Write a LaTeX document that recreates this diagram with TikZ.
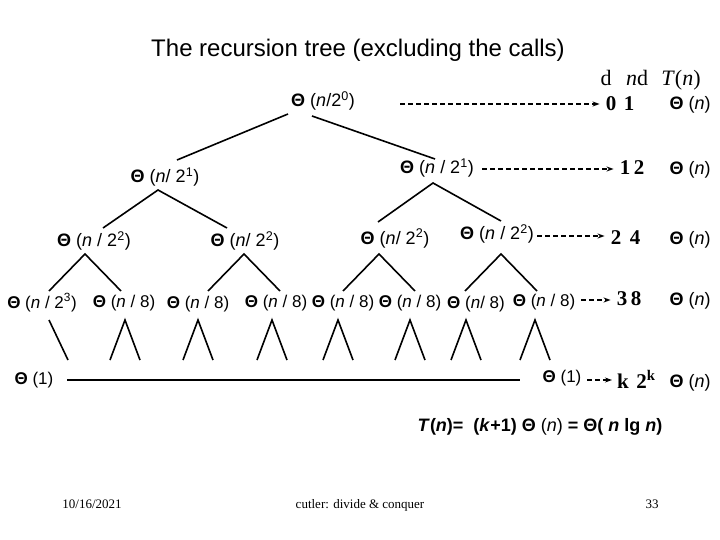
\documentclass[tikz,border=0pt]{standalone}
\usepackage{fontspec}
\setmainfont{Liberation Sans}
\newfontfamily\serifF{Liberation Serif}
\usetikzlibrary{arrows.meta}
\newcommand{\myth}{\textbf{Θ}}
\newcommand{\nn}{\textit{n}}
\begin{document}
\begin{tikzpicture}[x=1pt,y=-1pt,
  lbl/.style={inner sep=0pt, anchor=base, font=\fontsize{18}{20}\selectfont},
  lblS/.style={inner sep=0pt, anchor=base, font=\fontsize{17}{19}\selectfont},
  edge/.style={line width=1.6pt},
  dasharrow/.style={line width=1.1pt, dash pattern=on 5pt off 3pt, -{Stealth[length=7pt,width=5pt]}},
  num/.style={inner sep=0pt, anchor=base, font=\serifF\bfseries\fontsize{21}{23}\selectfont},
  thn/.style={inner sep=0pt, anchor=base, font=\fontsize{18}{20}\selectfont},
  hdr/.style={inner sep=0pt, anchor=base, font=\serifF\fontsize{22}{24}\selectfont},
  foot/.style={inner sep=0pt, anchor=base, font=\serifF\fontsize{13}{15}\selectfont}]
\fill[white] (0,0) rectangle (720,540);
\path[use as bounding box] (0,0) rectangle (720,540);

% title
\node[inner sep=0pt, anchor=base, font=\fontsize{24}{27}\selectfont] (title) at (358,57) {The recursion tree (excluding the calls)};

% header
\node[hdr] (hd) at (606,86) {d};
\node[hdr] (hnd) at (637,86) {\textit{n}d};
\node[hdr] (hT) at (681,86) {\textit{T}(\textit{n})};

% level 0
\node[lbl] (r0) at (323,107) {\myth\ (\nn/2\textsuperscript{0})};
\node[num] (n0a) at (611,111) {0};
\node[num] (n0b) at (629,111) {1};
\node[thn] (t0) at (690,110) {\myth\ (\nn)};
\coordinate (a0) at (400,104);
\draw[dasharrow, shorten >=6pt] (a0) -- (a0 -| n0a.west);

% level 1
\node[lbl] (L1a) at (165,183) {\myth\ (\nn/ 2\textsuperscript{1})};
\node[lbl] (L1b) at (437,174) {\myth\ (\nn\ / 2\textsuperscript{1})};
\node[num] (n1a) at (625,175) {1};
\node[num] (n1b) at (639,175) {2};
\node[thn] (t1) at (690,175) {\myth\ (\nn)};
\coordinate (a1) at (482,169);
\draw[dasharrow, shorten >=6pt] (a1) -- (a1 -| n1a.west);

% level 2
\node[lbl] (L2a) at (94,247) {\myth\ (\nn\ / 2\textsuperscript{2})};
\node[lbl] (L2b) at (245,247) {\myth\ (\nn/ 2\textsuperscript{2})};
\node[lbl] (L2c) at (395,244) {\myth\ (\nn/ 2\textsuperscript{2})};
\node[lbl] (L2d) at (497,240) {\myth\ (\nn\ / 2\textsuperscript{2})};
\node[num] (n2a) at (616,244) {2};
\node[num] (n2b) at (635,244) {4};
\node[thn] (t2) at (690,244) {\myth\ (\nn)};
\coordinate (a2) at (537,236);
\draw[dasharrow, shorten >=6pt] (a2) -- (a2 -| n2a.west);

% level 3
\node[lblS] (L3a) at (42,308) {\myth\ (\nn\ / 2\textsuperscript{3})};
\node[lblS] (L3b) at (124,307) {\myth\ (\nn\ / 8)};
\node[lblS] (L3c) at (198,308) {\myth\ (\nn\ / 8)};
\node[lblS] (L3d) at (276,307) {\myth\ (\nn\ / 8)};
\node[lblS] (L3e) at (343,307) {\myth\ (\nn\ / 8)};
\node[lblS] (L3f) at (410,307) {\myth\ (\nn\ / 8)};
\node[lblS] (L3g) at (476,308) {\myth\ (\nn/ 8)};
\node[lblS] (L3h) at (544,306) {\myth\ (\nn\ / 8)};
\node[num] (n3a) at (622,305) {3};
\node[num] (n3b) at (636,305) {8};
\node[thn] (t3) at (690,305) {\myth\ (\nn)};
\coordinate (a3) at (581,300);
\draw[dasharrow, shorten >=6pt] (a3) -- (a3 -| n3a.west);

% bottom
\node[lblS] (b1) at (34,384) {\myth\ (1)};
\node[lblS] (b2) at (562,382) {\myth\ (1)};
\node[num] (nka) at (623,388) {k};
\node[num] (nkb) at (646,388) {2\textsuperscript{k}};
\node[thn] (tk) at (690,387) {\myth\ (\nn)};
\coordinate (ls) at (67,380);
\coordinate (le) at (520,380);
\draw[line width=2pt] (ls) -- (le);
\coordinate (a4) at (587,380);
\draw[dasharrow, shorten >=5pt] (a4) -- (a4 -| nka.west);

% formula
\node[inner sep=0pt, anchor=base, font=\bfseries\fontsize{18}{20}\selectfont] (form) at (540,431)
  {\textit{T}(\textit{n})=\ \ (\textit{k}+1) Θ \textmd{(\textit{n})} = Θ( \textit{n} lg \textit{n})};

% footer
\node[foot] (f1) at (92,508) {10/16/2021};
\node[foot] (f2) at (360,508) {cutler: divide \& conquer};
\node[foot] (f3) at (652,508) {33};

% tree edges
\coordinate (e0a) at (288,114); \coordinate (e0b) at (177,160);
\coordinate (e0c) at (312,116); \coordinate (e0d) at (435,159);
\draw[edge] (e0a) -- (e0b);
\draw[edge] (e0c) -- (e0d);

\coordinate (v1) at (158,190); \coordinate (v1l) at (103,228); \coordinate (v1r) at (227,228);
\draw[edge] (v1l) -- (v1) -- (v1r);
\coordinate (v2) at (433,183); \coordinate (v2l) at (378,222); \coordinate (v2r) at (501,221);
\draw[edge] (v2l) -- (v2) -- (v2r);

\foreach \x [count=\i] in {85,244,379,501} {
  \coordinate (w\i) at (\x,254);
  \coordinate (wl\i) at (\x-36,291);
  \coordinate (wr\i) at (\x+36,291);
  \draw[edge] (wl\i) -- (w\i) -- (wr\i);
}

\coordinate (s1) at (49,320); \coordinate (s2) at (68,360);
\draw[edge] (s1) -- (s2);
\foreach \x [count=\i] in {125,198,272,338,410,466,535} {
  \coordinate (t\i) at (\x,320);
  \coordinate (tl\i) at (\x-15,360);
  \coordinate (tr\i) at (\x+15,360);
  \draw[edge] (tl\i) -- (t\i) -- (tr\i);
}
\end{tikzpicture}
\end{document}
